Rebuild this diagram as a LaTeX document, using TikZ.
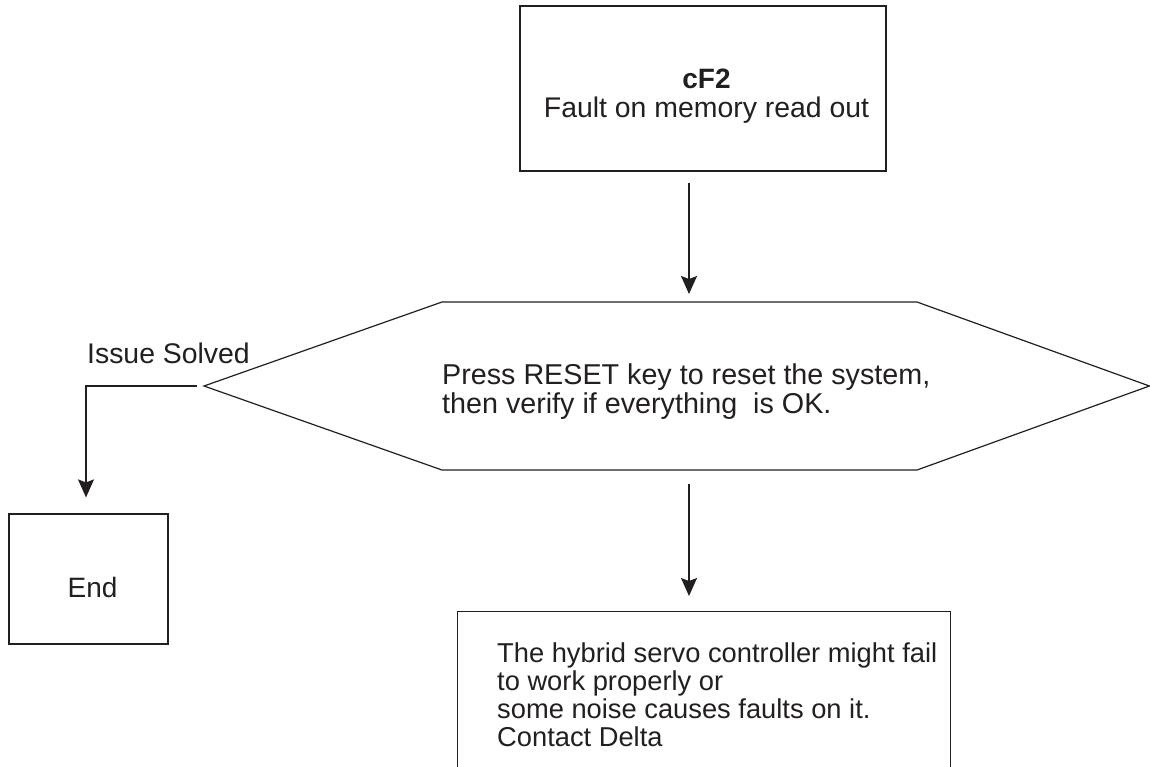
\documentclass[tikz,border=0pt]{standalone}
\usepackage{fontspec}
\setmainfont{Liberation Sans}
\usetikzlibrary{arrows.meta}
\definecolor{ink}{RGB}{35,31,32}
\begin{document}
\begin{tikzpicture}[x=1pt,y=-1pt,
  boxshape/.style={draw=ink,line width=1.2pt,rectangle,inner sep=0pt},
  txt/.style={text=ink,inner sep=0pt,font=\fontsize{28}{29}\selectfont},
  hextxt/.style={text=ink,inner sep=0pt,font=\fontsize{28.7}{29}\selectfont},
  smalltxt/.style={text=ink,inner sep=0pt,font=\fontsize{27.3}{28}\selectfont},
  hexline/.style={draw=ink,line width=1.2pt,line join=miter},
  arr/.style={draw=ink,line width=1.6pt,-{Stealth[length=18pt,width=16pt,inset=3pt]}}]
\useasboundingbox (0,0) rectangle (1150,766);
\fill[white] (0,0) rectangle (1150,766);

% top box
\node[boxshape,minimum width=366pt,minimum height=165pt] (top) at (703,88.5) {};
\node[txt,anchor=base,font=\fontsize{28}{29}\selectfont\bfseries] (cf) at (706.5,88) {cF2};
\node[txt,anchor=base,font=\fontsize{28.4}{29}\selectfont] (fault) at (706.5,117) {Fault on memory read out};

% hexagon
\coordinate (hL) at (204,386);
\coordinate (hTL) at (442,302);
\coordinate (hTR) at (917,302);
\coordinate (hR) at (1149.4,386);
\coordinate (hBR) at (917,470);
\coordinate (hBL) at (442,470);
\coordinate (hT) at (689,302);
\coordinate (hB) at (689,470);
\draw[hexline] (hL) -- (hTL) -- (hTR) -- (hR) -- (hBR) -- (hBL) -- cycle;
\node[hextxt,anchor=base west] (p1) at (442,384) {Press RESET key to reset the system,};
\node[hextxt,anchor=base west] (p2) at (442,413) {then verify if everything\ \ is OK.};

% end box
\node[boxshape,minimum width=159pt,minimum height=130pt] (endbox) at (88.5,579) {};
\node[txt,anchor=base] (endtxt) at (92.5,597) {End};

% bottom box (runs past the lower edge)
\node[boxshape,minimum width=493pt,minimum height=200pt,anchor=north west] (bot) at (457,611) {};
\node[smalltxt,anchor=base west] (b1) at (497,662) {The hybrid servo controller might fail};
\node[smalltxt,anchor=base west] (b2) at (497,690) {to work properly or};
\node[smalltxt,anchor=base west] (b3) at (497,718) {some noise causes faults on it.};
\node[smalltxt,anchor=base west] (b4) at (497,746) {Contact Delta};

% issue solved label
\node[txt,anchor=base west,font=\fontsize{28.4}{29}\selectfont] (solved) at (87,363) {Issue Solved};

% connectors
\draw[arr,shorten <=11pt,shorten >=8pt] (top.south -| hT) -- (hT);
\draw[arr,shorten <=14pt,shorten >=15pt] (hB) -- (hB |- bot.north);
\coordinate (corner) at (86,386);
\draw[arr,line width=1.4pt,shorten <=7pt,shorten >=16pt] (hL) -- (corner) -- (corner |- endbox.north);
\end{tikzpicture}
\end{document}
